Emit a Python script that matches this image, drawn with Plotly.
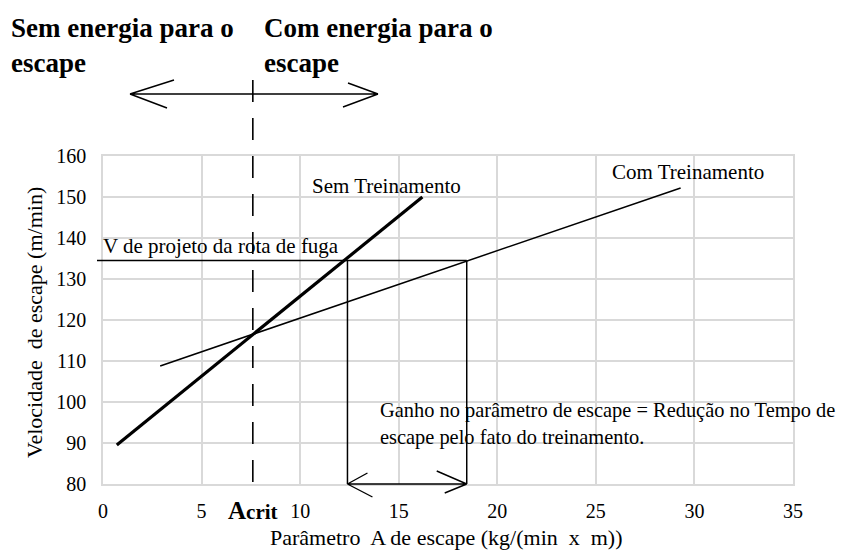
import plotly.graph_objects as go

# ---------------- data ----------------
sem_x = [0.7, 16.2]          # Sem Treinamento (thick line)
sem_y = [89.5, 150.0]
com_x = [2.9, 29.3]          # Com Treinamento (thin line)
com_y = [108.8, 152.2]
A_CRIT = 7.6                 # critical escape parameter
V_PROJ = 134.5               # design speed of escape route
A_SEM = 12.4                 # A at V_PROJ without training
A_COM = 18.45                # A at V_PROJ with training
x_ticks = [0, 5, 10, 15, 20, 25, 30, 35]
y_ticks = [80, 90, 100, 110, 120, 130, 140, 150, 160]
X_RANGE = [0, 35]
Y_RANGE = [80, 160]

# ---------------- layout geometry ----------------
OFF = 8                      # page body margin of the browser
W, H = 852 - OFF, 552 - OFF
ML, MR, MT, MB = 103 - OFF, 59, 156 - OFF, 68
PW = W - ML - MR
PH = H - MT - MB
FONT = "Liberation Serif"


def px(v):  # data x -> paper
    return (v - X_RANGE[0]) / (X_RANGE[1] - X_RANGE[0])


def py(v):  # data y -> paper
    return (v - Y_RANGE[0]) / (Y_RANGE[1] - Y_RANGE[0])


def dpx(p):  # pixel offset -> paper x
    return p / PW


def dpy(p):  # pixel offset (down positive) -> paper y
    return -p / PH


def pxl(x):  # absolute page pixel -> paper x
    return (x - OFF - ML) / PW


def pyl(y):  # absolute page pixel -> paper y
    return (H - MB - (y - OFF)) / PH


fig = go.Figure()
fig.add_trace(go.Scatter(x=sem_x, y=sem_y, mode="lines",
                         line=dict(color="black", width=3.2), showlegend=False))
fig.add_trace(go.Scatter(x=com_x, y=com_y, mode="lines",
                         line=dict(color="black", width=1.5), showlegend=False))

shapes = []
LINE = dict(color="black", width=1.5)
# dashed A_crit line (extends above the plot)
shapes.append(dict(type="line", xref="paper", yref="paper",
                   x0=px(A_CRIT), x1=px(A_CRIT), y0=py(80) + dpy(-2), y1=py(80) + dpy(-417),
                   line=dict(color="black", width=1.6, dash="22px,16px")))
# design speed horizontal line
shapes.append(dict(type="line", xref="paper", yref="paper",
                   x0=dpx(-6), x1=px(A_COM), y0=py(V_PROJ), y1=py(V_PROJ), line=LINE))
# vertical drops
for a in (A_SEM, A_COM):
    shapes.append(dict(type="line", xref="x", yref="y",
                       x0=a, x1=a, y0=V_PROJ, y1=Y_RANGE[0], line=LINE))


def arrow(x0, x1, y, arm_l, arm_r, width):
    """double arrow with open V heads in paper coords; arms given in px offsets"""
    d = f"M {x0},{y} L {x1},{y}"
    for (ax, ay) in arm_l:
        d += f" M {x0},{y} L {x0 + dpx(ax)},{y + dpy(ay)}"
    for (ax, ay) in arm_r:
        d += f" M {x1},{y} L {x1 + dpx(ax)},{y + dpy(ay)}"
    return dict(type="path", xref="paper", yref="paper", path=d,
                line=dict(color="black", width=width))


# bottom gain arrow
shapes.append(arrow(px(A_SEM), px(A_COM), py(80),
                    [(20, -11), (25, 13)], [(-30, -13), (-22, 9)], 1.4))
# top arrow
shapes.append(arrow(pxl(130), pxl(378), pyl(94),
                    [(44, -14), (37, 14)], [(-30, -11), (-35, 13)], 1.4))

ann = []
def text(t, x, y, size=21, xanchor="center", yanchor="middle", bold=False, align="left"):
    if bold:
        t = "<b>" + t.replace("<br>", "</b><br><b>") + "</b>"
    ann.append(dict(text=t, xref="paper", yref="paper", x=x, y=y, showarrow=False,
                    xanchor=xanchor, yanchor=yanchor, align=align,
                    font=dict(family=FONT, size=size, color="black")))

text("Sem energia para o<br>escape", pxl(9), pyl(11), size=27, xanchor="left", yanchor="top", bold=True)
text("Com energia para o<br>escape", pxl(262), pyl(11), size=27, xanchor="left", yanchor="top", bold=True)
text("Sem Treinamento", pxl(386), pyl(186))
text("Com Treinamento", pxl(688), pyl(172))
text("V de projeto da rota de fuga", pxl(101), pyl(246), xanchor="left")
text("Ganho no parâmetro de escape = Redução no Tempo de<br>escape pelo fato do treinamento.",
     pxl(378), pyl(424), size=20.4, xanchor="left")
text("<b><span style='font-size:25px'>A</span>crit</b>", px(A_CRIT), pyl(510), size=21)
text("Velocidade  de escape (m/min)", pxl(34), pyl(323), size=22)
ann[-1]["textangle"] = -90
text("Parâmetro  A de escape (kg/(min  x  m))", pxl(446), pyl(537), size=22)

fig.update_layout(
    width=W, height=H,
    margin=dict(l=ML, r=MR, t=MT, b=MB, pad=0),
    paper_bgcolor="white", plot_bgcolor="white",
    font=dict(family=FONT, size=20, color="black"),
    shapes=shapes, annotations=ann, showlegend=False,
    xaxis=dict(range=X_RANGE, tickvals=x_ticks, ticktext=[str(v) for v in x_ticks],
               showgrid=True, gridcolor="#d9d9d9", gridwidth=1.5,
               showline=True, linecolor="#d9d9d9", linewidth=1.5, mirror=True,
               zeroline=False, ticks="", ticklabelstandoff=8,
               tickfont=dict(family=FONT, size=20, color="black")),
    yaxis=dict(range=Y_RANGE, tickvals=y_ticks,
               showgrid=True, gridcolor="#d9d9d9", gridwidth=1.5,
               showline=True, linecolor="#d9d9d9", linewidth=1.5, mirror=True,
               zeroline=False, ticks="", ticklabelstandoff=11,
               tickfont=dict(family=FONT, size=20, color="black")),
)

fig.write_html("out.html")
